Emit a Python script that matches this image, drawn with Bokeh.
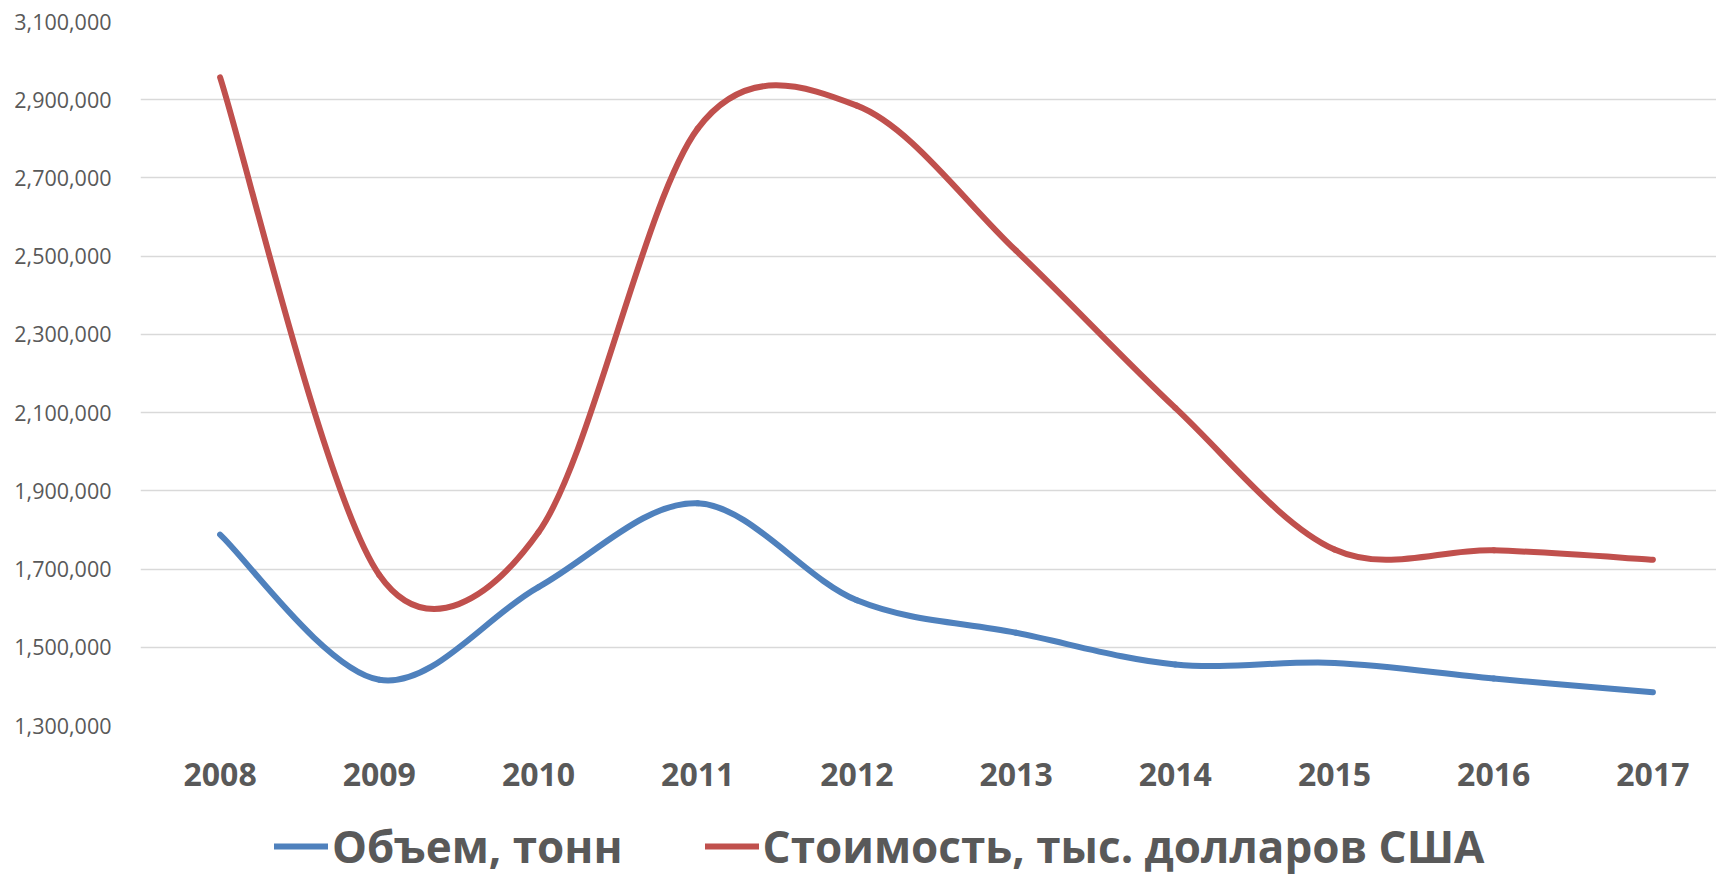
import math
from bokeh.plotting import figure
from bokeh.layouts import column
from bokeh.models import (Range1d, FixedTicker, NumeralTickFormatter, Legend,
                          LegendItem, ColumnDataSource)
from bokeh.embed import file_html
from bokeh.resources import INLINE

# ---------------- data ----------------
years = [2008, 2009, 2010, 2011, 2012, 2013, 2014, 2015, 2016, 2017]
volume_tonnes = [1788000, 1417000, 1654000, 1868000, 1620000,
                 1537000, 1456000, 1460000, 1420000, 1385000]
value_thousand_usd = [2957000, 1685000, 1794000, 2826000, 2885000,
                      2514000, 2112000, 1750000, 1748000, 1724000]
y_ticks = [1300000, 1500000, 1700000, 1900000, 2100000,
           2300000, 2500000, 2700000, 2900000, 3100000]
series_labels = ["Объем, тонн", "Стоимость, тыс. долларов США"]
series_colors = ["#4F81BD", "#C0504D"]

# ---------------- layout ----------------
W = 1716
H_MAIN, H_LEG = 800, 76
B_LEFT, B_TOP, B_RIGHT = 140, 21, 0
FRAME_H = 704
B_BOTTOM = H_MAIN - B_TOP - FRAME_H
FRAME_W = W - B_LEFT - B_RIGHT
BAND_PX = 159.2
x_start = years[0] - 0.5
x_end = x_start + FRAME_W / BAND_PX
y_start, y_end = y_ticks[0], y_ticks[-1]

TEXT = "#595959"
BOLD_FONT = "Open Sans"
LINE_W = 6

p = figure(width=W, height=H_MAIN, output_backend="svg", toolbar_location=None,
           x_range=Range1d(x_start, x_end), y_range=Range1d(y_start, y_end),
           min_border_left=B_LEFT, min_border_right=B_RIGHT,
           min_border_top=B_TOP, min_border_bottom=B_BOTTOM)
p.outline_line_color = None
p.background_fill_color = "white"
p.border_fill_color = "white"

# grid
p.xgrid.grid_line_color = None
p.ygrid.grid_line_color = "#D9D9D9"
p.ygrid.grid_line_width = 1.5

# y axis
p.yaxis.ticker = FixedTicker(ticks=y_ticks)
p.yaxis.formatter = NumeralTickFormatter(format="0,0")
p.yaxis.axis_line_color = None
p.yaxis.major_tick_line_color = None
p.yaxis.minor_tick_line_color = None
p.yaxis.major_tick_out = 0
p.yaxis.major_tick_in = 0
p.yaxis.major_label_text_font = "Open Sans"
p.yaxis.major_label_text_font_size = "21.5px"
p.yaxis.major_label_text_color = TEXT
p.yaxis.major_label_standoff = 29

# x axis
p.xaxis.ticker = FixedTicker(ticks=years)
p.xaxis.major_label_overrides = {y: str(y) for y in years}
p.xaxis.axis_line_color = None
p.xaxis.major_tick_line_color = None
p.xaxis.minor_tick_line_color = None
p.xaxis.major_label_text_font = BOLD_FONT
p.xaxis.major_label_text_font_style = "bold"
p.xaxis.major_label_text_font_size = "32px"
p.xaxis.major_label_text_color = TEXT
p.xaxis.major_label_standoff = 31

# ---------------- smoothed lines (Excel-style Bezier) ----------------
sx = FRAME_W / (x_end - x_start)
sy = FRAME_H / (y_end - y_start)


def excel_bezier(xs, ys):
    pts = [(x * sx, y * sy) for x, y in zip(xs, ys)]
    n = len(pts)
    seg = dict(x0=[], y0=[], x1=[], y1=[], cx0=[], cy0=[], cx1=[], cy1=[])

    def dist(a, b):
        return math.hypot(a[0] - b[0], a[1] - b[1])

    for i in range(n - 1):
        p0 = pts[i - 1] if i > 0 else pts[i]
        p1 = pts[i]
        p2 = pts[i + 1]
        p3 = pts[i + 2] if i + 2 < n else pts[i + 1]
        d12 = dist(p1, p2)
        d02 = dist(p0, p2)
        d13 = dist(p1, p3)
        f1 = 1.0 / 6.0
        if d02 / 6.0 > d12 / 2.0 and d02 > 0:
            f1 = d12 / (2.0 * d02)
        f2 = 1.0 / 6.0
        if d13 / 6.0 > d12 / 2.0 and d13 > 0:
            f2 = d12 / (2.0 * d13)
        c1 = (p1[0] + f1 * (p2[0] - p0[0]), p1[1] + f1 * (p2[1] - p0[1]))
        c2 = (p2[0] - f2 * (p3[0] - p1[0]), p2[1] - f2 * (p3[1] - p1[1]))
        seg["x0"].append(p1[0] / sx); seg["y0"].append(p1[1] / sy)
        seg["x1"].append(p2[0] / sx); seg["y1"].append(p2[1] / sy)
        seg["cx0"].append(c1[0] / sx); seg["cy0"].append(c1[1] / sy)
        seg["cx1"].append(c2[0] / sx); seg["cy1"].append(c2[1] / sy)
    return ColumnDataSource(seg)


for vals, color in zip([volume_tonnes, value_thousand_usd], series_colors):
    src = excel_bezier(years, vals)
    p.bezier(x0="x0", y0="y0", x1="x1", y1="y1", cx0="cx0", cy0="cy0",
             cx1="cx1", cy1="cy1", source=src, line_color=color,
             line_width=LINE_W, line_cap="round")

# ---------------- legend (separate strip below the chart) ----------------
lf = figure(width=W, height=H_LEG, output_backend="svg", toolbar_location=None,
            x_range=Range1d(0, 1), y_range=Range1d(0, 1),
            x_axis_location=None, y_axis_location=None,
            min_border=0, min_border_left=0, min_border_right=0,
            min_border_top=0, min_border_bottom=0)
lf.grid.visible = False
lf.outline_line_color = None
lf.background_fill_color = "white"
lf.border_fill_color = "white"

items = []
for label, color in zip(series_labels, series_colors):
    # off-range sample so only the legend swatch is visible
    r = lf.line(x=[-5, -4], y=[-5, -4], line_color=color, line_width=LINE_W,
                line_cap="round")
    items.append(LegendItem(label=label, renderers=[r]))

# the column aligns this strip's frame with the chart frame (left edge at 140px)
legend = Legend(items=items, orientation="horizontal", location=(134, 0),
                label_text_font=BOLD_FONT, label_text_font_style="bold",
                label_text_font_size="44px", label_text_color=TEXT,
                glyph_width=54, glyph_height=40, label_standoff=4, spacing=82,
                padding=0, margin=0, border_line_color=None,
                background_fill_alpha=0)
lf.add_layout(legend, "center")

layout = column(p, lf, spacing=0)
open("out.html", "w").write(file_html(layout, INLINE))
